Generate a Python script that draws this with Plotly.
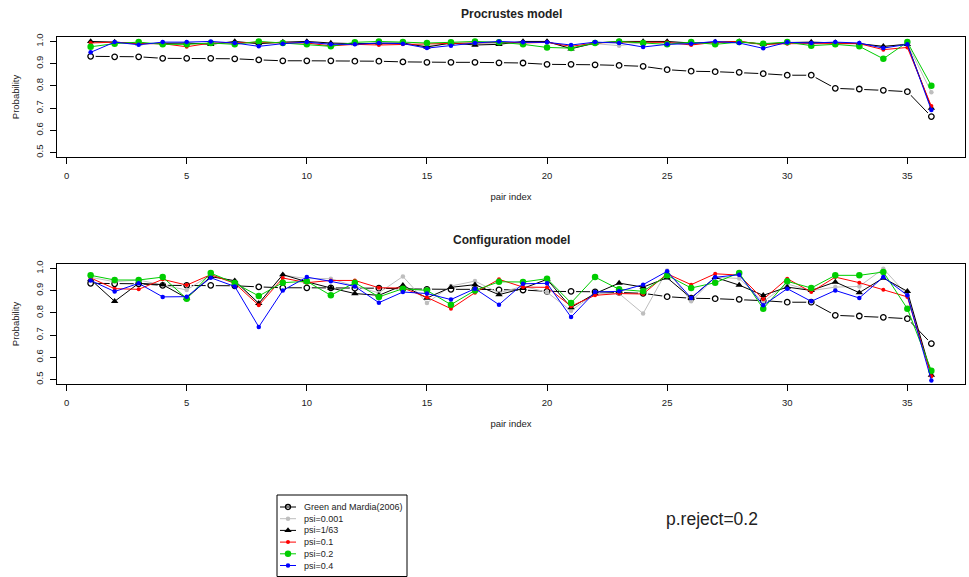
import plotly.graph_objects as go

pair_index = list(range(1, 37))

gm2006 = [0.933, 0.931, 0.931, 0.924, 0.924, 0.924, 0.922, 0.917, 0.913, 0.913, 0.913, 0.911,
          0.911, 0.908, 0.906, 0.906, 0.906, 0.904, 0.903, 0.897, 0.897, 0.895, 0.892, 0.888,
          0.873, 0.866, 0.864, 0.861, 0.855, 0.848, 0.848, 0.789, 0.786, 0.780, 0.774, 0.662]

# Procrustes model
proc_psi_0001 = [0.995, 0.997, 0.99, 0.99, 0.99, 0.99, 0.997, 0.99, 0.995, 0.995, 0.99, 0.99,
                 0.993, 0.99, 0.98, 0.99, 0.99, 0.99, 0.997, 0.997, 0.97, 0.99, 0.981, 0.995,
                 0.997, 0.99, 0.995, 0.997, 0.985, 0.993, 0.995, 0.993, 0.99, 0.975, 0.99, 0.771]
proc_psi_1_63 = [1.0, 0.997, 0.99, 0.993, 0.993, 0.987, 1.0, 0.99, 0.997, 1.0, 0.993, 0.99,
                 0.993, 0.993, 0.975, 0.993, 0.984, 0.987, 1.0, 1.0, 0.967, 0.993, 1.0, 1.0,
                 1.0, 0.993, 0.997, 1.0, 0.987, 0.995, 0.997, 0.995, 0.99, 0.978, 0.987, 0.70]
proc_psi_01 = [0.993, 0.997, 0.99, 0.99, 0.976, 0.993, 0.993, 0.997, 0.993, 0.993, 0.98, 0.987,
               0.984, 0.987, 0.99, 0.993, 0.993, 0.996, 0.993, 0.996, 0.978, 0.993, 0.997, 0.997,
               0.996, 0.984, 0.996, 1.0, 0.987, 0.99, 0.99, 0.993, 0.99, 0.963, 0.973, 0.709]
proc_psi_02 = [0.976, 0.99, 0.997, 0.987, 0.987, 0.993, 0.987, 1.0, 0.993, 0.987, 0.978, 0.996,
               1.0, 0.997, 0.993, 0.996, 1.0, 0.996, 0.987, 0.973, 0.970, 0.993, 1.0, 0.993,
               0.987, 0.997, 0.987, 0.997, 0.99, 0.997, 0.981, 0.987, 0.978, 0.922, 0.997, 0.801]
proc_psi_04 = [0.951, 0.997, 0.985, 0.997, 0.997, 1.0, 0.993, 0.978, 0.99, 0.997, 0.987, 0.987,
               0.993, 0.99, 0.970, 0.981, 0.993, 1.0, 0.996, 0.996, 0.984, 0.997, 0.993, 0.975,
               0.987, 0.99, 1.0, 0.993, 0.969, 0.996, 0.993, 0.997, 0.993, 0.970, 0.987, 0.691]

# Configuration model
conf_psi_0001 = [0.96, 0.94, 0.948, 0.927, 0.903, 0.972, 0.94, 0.842, 0.97, 0.954, 0.954, 0.92,
                 0.89, 0.964, 0.845, 0.921, 0.943, 0.89, 0.92, 0.893, 0.81, 0.887, 0.887, 0.797,
                 0.991, 0.852, 0.96, 0.955, 0.85, 0.93, 0.9, 0.916, 0.919, 0.999, 0.88, 0.53]
conf_psi_1_63 = [0.95, 0.852, 0.933, 0.927, 0.867, 0.963, 0.945, 0.843, 0.972, 0.94, 0.912, 0.887,
                 0.879, 0.924, 0.867, 0.915, 0.927, 0.882, 0.91, 0.951, 0.824, 0.887, 0.934, 0.916,
                 0.958, 0.867, 0.96, 0.925, 0.879, 0.916, 0.901, 0.939, 0.891, 0.957, 0.897, 0.52]
conf_psi_01 = [0.957, 0.909, 0.906, 0.951, 0.925, 0.972, 0.933, 0.834, 0.957, 0.936, 0.946, 0.946,
               0.913, 0.912, 0.87, 0.819, 0.891, 0.951, 0.916, 0.915, 0.83, 0.879, 0.887, 0.885,
               0.976, 0.927, 0.976, 0.97, 0.861, 0.954, 0.894, 0.961, 0.936, 0.904, 0.872, 0.515]
conf_psi_02 = [0.969, 0.948, 0.948, 0.961, 0.864, 0.979, 0.934, 0.876, 0.936, 0.942, 0.879, 0.936,
               0.872, 0.909, 0.901, 0.837, 0.901, 0.94, 0.939, 0.954, 0.845, 0.961, 0.906, 0.897,
               0.969, 0.912, 0.936, 0.98, 0.819, 0.942, 0.912, 0.969, 0.969, 0.984, 0.819, 0.54]
conf_psi_04 = [0.946, 0.896, 0.933, 0.872, 0.873, 0.958, 0.919, 0.737, 0.901, 0.961, 0.942, 0.919,
               0.846, 0.894, 0.887, 0.86, 0.909, 0.837, 0.931, 0.933, 0.781, 0.894, 0.897, 0.927,
               0.987, 0.867, 0.96, 0.972, 0.834, 0.909, 0.852, 0.901, 0.867, 0.961, 0.879, 0.496]

x_ticks = [0, 5, 10, 15, 20, 25, 30, 35]
y_ticks = [0.5, 0.6, 0.7, 0.8, 0.9, 1.0]
y_ticktext = ["0.5", "0.6", "0.7", "0.8", "0.9", "1.0"]

FONT = "Liberation Sans, Arial, sans-serif"
TXT = "#222222"

gm_label = "Green and Mardia(2006)"
series_styles = [
    ("psi=0.001", "#BEBEBE", "circle", 4.5),
    ("psi=1/63", "#000000", "triangle-up", 6.5),
    ("psi=0.1", "#FF0000", "circle", 4),
    ("psi=0.2", "#00CD00", "circle", 6.5),
    ("psi=0.4", "#0000FF", "circle", 4.5),
]
proc_series = [proc_psi_0001, proc_psi_1_63, proc_psi_01, proc_psi_02, proc_psi_04]
conf_series = [conf_psi_0001, conf_psi_1_63, conf_psi_01, conf_psi_02, conf_psi_04]

W, H = 969, 577

fig = go.Figure()


def add_gm(x, y, xa, ya, circle_size=5.5, gap_size=10):
    # R type="b": line with gaps around the open circles
    fig.add_trace(go.Scatter(x=x, y=y, xaxis=xa, yaxis=ya, mode="lines", showlegend=False,
                             line=dict(color="#000000", width=1), hoverinfo="skip"))
    fig.add_trace(go.Scatter(x=x, y=y, xaxis=xa, yaxis=ya, mode="markers", showlegend=False,
                             marker=dict(symbol="circle", size=gap_size, color="white",
                                         line=dict(width=0)), hoverinfo="skip"))
    fig.add_trace(go.Scatter(x=x, y=y, xaxis=xa, yaxis=ya, mode="markers", showlegend=False,
                             name=gm_label,
                             marker=dict(symbol="circle", size=circle_size, color="white",
                                         line=dict(color="#000000", width=1.3))))


for xa, ya, data in [("x", "y", proc_series), ("x2", "y2", conf_series)]:
    add_gm(pair_index, gm2006, xa, ya)
    for (name, color, sym, size), vals in zip(series_styles, data):
        fig.add_trace(go.Scatter(
            x=pair_index, y=vals, xaxis=xa, yaxis=ya, mode="lines+markers",
            name=name, showlegend=False,
            line=dict(color=color, width=1),
            marker=dict(symbol=sym, size=size, color=color, line=dict(width=0)),
        ))

# ---- manual legend (R style, compact rows) on a pixel-space overlay axis ----
leg_left, leg_top, leg_right, leg_bottom = 277, 495, 407, 576.5
row0, row_step = 507, 11.7
key_x0, key_x1, key_mid, text_x = 280, 296, 288, 302

fig.add_shape(type="rect", xref="x3", yref="y3", x0=leg_left, x1=leg_right,
              y0=leg_top, y1=leg_bottom, line=dict(color="black", width=1),
              fillcolor="white", layer="below")

legend_entries = [(gm_label, "#000000", None, None)] + series_styles
annos = []
for k, (label, color, sym, size) in enumerate(legend_entries):
    yk = row0 + k * row_step
    if sym is None:
        fig.add_shape(type="line", xref="x3", yref="y3", x0=key_x0, x1=key_x1, y0=yk, y1=yk,
                      line=dict(color="#000000", width=1))
        fig.add_trace(go.Scatter(x=[key_mid], y=[yk], xaxis="x3", yaxis="y3", mode="markers",
                                 showlegend=False, hoverinfo="skip",
                                 marker=dict(size=9, color="white", line=dict(width=0))))
        fig.add_trace(go.Scatter(x=[key_mid], y=[yk], xaxis="x3", yaxis="y3", mode="markers",
                                 showlegend=False, hoverinfo="skip",
                                 marker=dict(symbol="circle", size=5, color="white",
                                             line=dict(color="#000000", width=1.3))))
    else:
        fig.add_shape(type="line", xref="x3", yref="y3", x0=key_x0, x1=key_x1, y0=yk, y1=yk,
                      line=dict(color=color, width=1))
        fig.add_trace(go.Scatter(x=[key_mid], y=[yk], xaxis="x3", yaxis="y3", mode="markers",
                                 showlegend=False, hoverinfo="skip",
                                 marker=dict(symbol=sym, size=size, color=color,
                                             line=dict(width=0))))
    annos.append(dict(text=label, x=text_x, y=yk, xref="x3", yref="y3", showarrow=False,
                      xanchor="left", yanchor="middle",
                      font=dict(family=FONT, size=9, color=TXT)))

xdom = [57 / W, 965 / W]
top_dom = [(H - 157) / H, (H - 37) / H]
bot_dom = [(H - 384) / H, (H - 264) / H]

xaxis_common = dict(
    range=[-0.4, 37.4], tickvals=x_ticks, showgrid=False, zeroline=False,
    showline=True, linecolor="black", linewidth=1, mirror=True,
    ticks="outside", ticklen=6, tickcolor="black", tickwidth=1, ticklabelstandoff=4,
    tickfont=dict(family=FONT, size=9.5, color=TXT),
    title=dict(text="pair index", font=dict(family=FONT, size=9.5, color=TXT), standoff=12),
    domain=xdom, automargin=False,
)
yaxis_common = dict(
    range=[0.48, 1.02], tickvals=y_ticks, ticktext=y_ticktext, showgrid=False, zeroline=False,
    showline=True, linecolor="black", linewidth=1, mirror=True,
    ticks="outside", ticklen=6, tickcolor="black", tickwidth=1, tickangle=-90,
    ticklabelstandoff=3,
    tickfont=dict(family=FONT, size=9.5, color=TXT),
    title=dict(text="Probability", font=dict(family=FONT, size=9.5, color=TXT), standoff=12),
    automargin=False,
)

fig.update_layout(
    width=W, height=H, margin=dict(l=0, r=0, t=0, b=0, autoexpand=False),
    paper_bgcolor="white", plot_bgcolor="rgba(0,0,0,0)",
    font=dict(family=FONT, color=TXT),
    showlegend=False,
    xaxis=dict(**xaxis_common, anchor="y"),
    yaxis=dict(**yaxis_common, domain=top_dom, anchor="x"),
    xaxis2=dict(**xaxis_common, anchor="y2"),
    yaxis2=dict(**yaxis_common, domain=bot_dom, anchor="x2"),
    xaxis3=dict(domain=[0, 1], range=[0, W], visible=False, anchor="y3", fixedrange=True),
    yaxis3=dict(domain=[0, 1], range=[H, 0], visible=False, anchor="x3", fixedrange=True),
    annotations=annos + [
        dict(text="<b>Procrustes model</b>", x=(xdom[0] + xdom[1]) / 2, y=(H - 14) / H,
             xref="paper", yref="paper", showarrow=False, xanchor="center", yanchor="middle",
             font=dict(family=FONT, size=12, color=TXT)),
        dict(text="<b>Configuration model</b>", x=(xdom[0] + xdom[1]) / 2, y=(H - 240) / H,
             xref="paper", yref="paper", showarrow=False, xanchor="center", yanchor="middle",
             font=dict(family=FONT, size=12, color=TXT)),
        dict(text="p.reject=0.2", x=712 / W, y=(H - 519) / H,
             xref="paper", yref="paper", showarrow=False, xanchor="center", yanchor="middle",
             font=dict(family=FONT, size=17.5, color=TXT)),
    ],
)

fig.write_html("out.html")
